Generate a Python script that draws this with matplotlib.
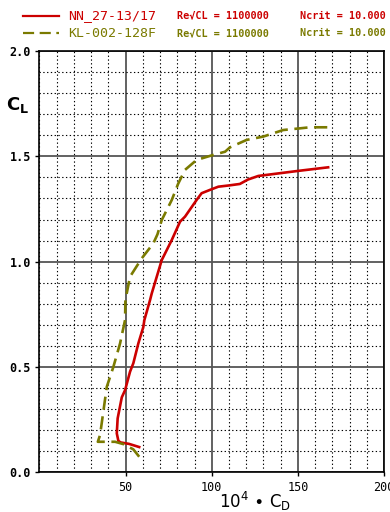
import numpy as np
import matplotlib.pyplot as plt
from matplotlib.lines import Line2D
from matplotlib.ticker import MultipleLocator

# polar data, 10^4 * Cd vs Cl
nn_cd = [57.9, 52.0, 47.0, 45.8, 44.9, 45.4, 47.8, 49.7, 52.6, 54.5, 57.4, 60.3,
         60.9, 64.2, 65.2, 71.0, 76.8, 81.6, 84.5, 91.2, 94.1, 99.0, 103.8,
         110.0, 116.3, 121.0, 127.0, 139.5, 150.1, 167.5]
nn_cl = [0.120, 0.135, 0.142, 0.150, 0.185, 0.256, 0.356, 0.390, 0.478, 0.518,
         0.612, 0.690, 0.723, 0.818, 0.850, 1.008, 1.103, 1.190, 1.214, 1.293,
         1.325, 1.341, 1.356, 1.362, 1.369, 1.390, 1.407, 1.420, 1.431, 1.448]

kl_cd = [57.9, 54.5, 48.7, 43.9, 33.9, 35.2, 39.1, 42.9, 46.8, 49.7, 49.9, 52.6,
         59.4, 66.1, 68.5, 71.0, 76.8, 80.5, 84.5, 91.2, 100.9, 107.7, 110.6,
         120.2, 129.9, 141.4, 151.1, 156.9, 170.4]
kl_cl = [0.074, 0.109, 0.134, 0.145, 0.145, 0.177, 0.406, 0.500, 0.612, 0.723,
         0.818, 0.929, 1.016, 1.087, 1.130, 1.198, 1.293, 1.370, 1.436, 1.483,
         1.507, 1.522, 1.543, 1.578, 1.594, 1.625, 1.633, 1.638, 1.638]

names = ["NN_27-13/17", "KL-002-128F"]
re_text = ["Re\u221aCL = 1100000", "Re\u221aCL = 1100000"]
ncrit_text = ["Ncrit = 10.000", "Ncrit = 10.000"]
xticks = [50, 100, 150, 200]
yticks = [0.0, 0.5, 1.0, 1.5, 2.0]

red = "#cc0000"
olive = "#7a7a00"
mono = "DejaVu Sans Mono"
dash = (0, (5, 2.5))

fig = plt.figure(figsize=(3.9, 5.12), dpi=100)
ax = fig.add_axes([0.101, 0.0775, 0.884, 0.8228])

ax.plot(nn_cd, nn_cl, color=red, lw=1.9, zorder=3)
ax.plot(kl_cd, kl_cl, color=olive, lw=1.9, ls=dash, zorder=3)

ax.set_xlim(0, 200)
ax.set_ylim(0, 2.0)
ax.xaxis.set_minor_locator(MultipleLocator(10))
ax.yaxis.set_minor_locator(MultipleLocator(0.1))
ax.set_xticks(xticks, [str(v) for v in xticks])
ax.set_yticks(yticks, [f"{v:.1f}" for v in yticks])

ax.grid(which="major", color="#555555", lw=1.3, ls="-")
ax.grid(which="minor", color="black", lw=0.8, ls=(0, (1.2, 2.2)))
ax.set_axisbelow(True)
ax.tick_params(which="major", length=3, width=1, color="black", pad=3,
               labelsize=8.5)
ax.tick_params(which="minor", length=0)
for lab in ax.get_xticklabels() + ax.get_yticklabels():
    lab.set_family(mono)
for lab in ax.get_yticklabels():
    lab.set_fontweight("bold")
for s in ax.spines.values():
    s.set_color("black")
    s.set_linewidth(1.2)

fig.text(18 / 390, 1 - 105 / 512, r"C$_\mathregular{L}$", fontsize=13,
         fontweight="bold", ha="center", va="center")
fig.text(255 / 390, 1 - 501 / 512,
         r"10$^\mathregular{4}$ $\bullet$ C$_\mathregular{D}$",
         fontsize=12, ha="center", va="center")

# legend block above the axes
rows = [(15.7, red, "-"), (33.3, olive, dash)]
for (py, col, ls), name, re_s, nc_s in zip(rows, names, re_text, ncrit_text):
    yf = 1 - py / 512
    fig.add_artist(Line2D([22.7 / 390, 59.3 / 390], [yf, yf], color=col,
                          lw=1.6, ls=ls, transform=fig.transFigure))
    fig.text(68 / 390, yf, name, color=col, fontsize=9.5, family=mono,
             va="center", ha="left")
    fig.text(176.7 / 390, yf, re_s, color=col, fontsize=7.3, family=mono,
             fontweight="bold", va="center", ha="left")
    fig.text(300 / 390, yf, nc_s, color=col, fontsize=7.3, family=mono,
             fontweight="bold", va="center", ha="left")

fig.savefig("out.png", dpi=100)
